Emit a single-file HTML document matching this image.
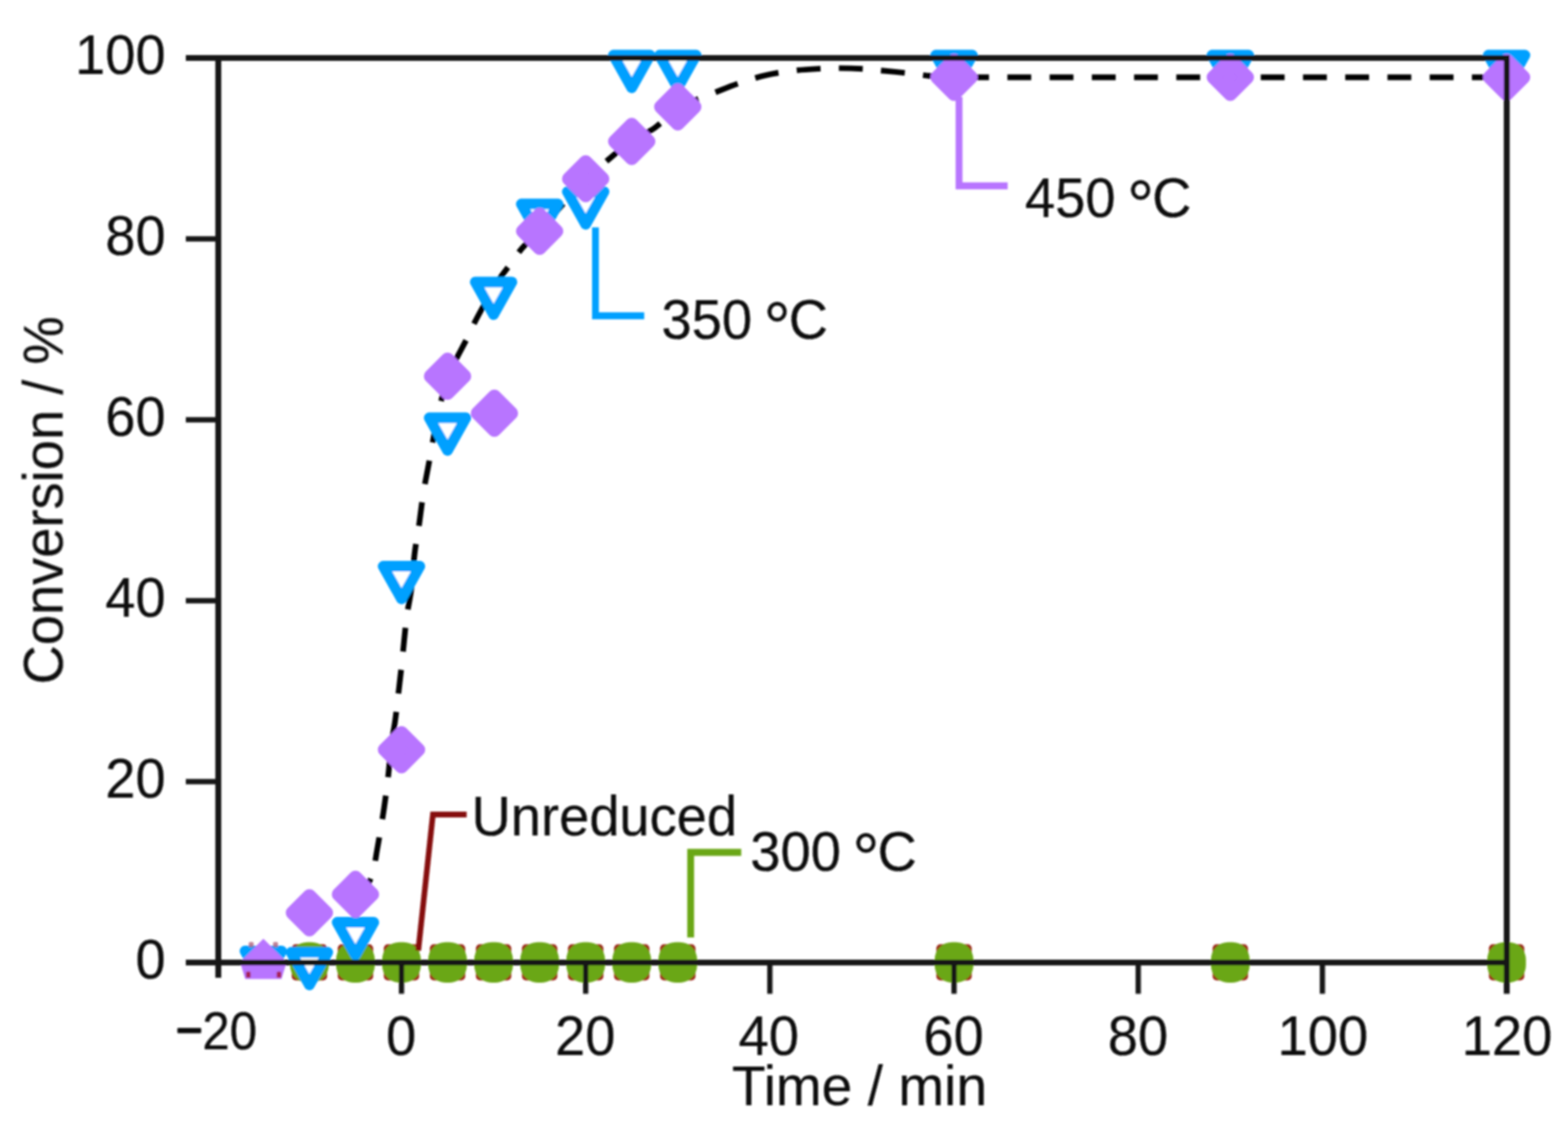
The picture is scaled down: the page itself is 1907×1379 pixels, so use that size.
<!DOCTYPE html>
<html lang="en"><head><meta charset="utf-8"><title>Conversion vs time</title>
<style>html,body{margin:0;padding:0;background:#fff;overflow:hidden}svg{display:block}text{font-family:"Liberation Sans",sans-serif;fill:#101010;stroke:#101010;stroke-width:0.25;stroke-linejoin:round}</style></head><body>
<svg width="1907" height="1379" viewBox="0 0 1907 1379" role="img" aria-label="Conversion versus time for catalysts reduced at different temperatures">
<defs><filter id="soft" x="0" y="0" width="1907" height="1379" filterUnits="userSpaceOnUse"><feGaussianBlur stdDeviation="1.25"/></filter><clipPath id="c15"><rect x="280" y="1140" width="90" height="42"/></clipPath></defs>
<rect width="1907" height="1379" fill="#fff"/>
<g filter="url(#soft)">
<path id="trendA" d="M433.00,1087.50 C435.17,1085.92 442.50,1082.92 446.00,1078.00 C449.50,1073.08 451.88,1065.50 454.00,1058.00 C456.12,1050.50 457.20,1041.33 458.70,1033.00 C460.20,1024.67 461.58,1016.50 463.00,1008.00 C464.42,999.50 465.70,992.50 467.20,982.00 C468.70,971.50 470.53,957.83 472.00,945.00 C473.47,932.17 474.58,916.33 476.00,905.00 C477.42,893.67 479.08,887.22 480.50,877.00 C481.92,866.78 483.08,855.87 484.50,843.70 C485.92,831.53 487.35,819.28 489.00,804.00 C490.65,788.72 492.57,766.42 494.40,752.00 C496.23,737.58 498.33,730.83 500.00,717.50 C501.67,704.17 502.82,685.00 504.40,672.00 C505.98,659.00 507.73,651.67 509.50,639.50 C511.27,627.33 512.83,612.47 515.00,599.00 C517.17,585.53 519.67,573.87 522.50,558.70 C525.33,543.53 528.33,524.87 532.00,508.00 C535.67,491.13 540.67,469.47 544.50,457.50 C548.33,445.53 551.17,443.70 555.00,436.20 C558.83,428.70 563.72,420.00 567.50,412.50 C571.28,405.00 574.20,398.08 577.70,391.20 C581.20,384.32 584.87,377.73 588.50,371.20 C592.13,364.67 595.87,358.03 599.50,352.00 C603.13,345.97 606.67,340.25 610.30,335.00 C613.93,329.75 617.52,325.63 621.30,320.50 C625.08,315.37 629.05,309.03 633.00,304.20 C636.95,299.37 641.13,295.33 645.00,291.50 C648.87,287.67 649.70,288.28 656.20,281.20 C662.70,274.12 674.62,259.62 684.00,249.00 C693.38,238.38 703.17,226.67 712.50,217.50 C721.83,208.33 730.92,201.58 740.00,194.00 C749.08,186.42 757.50,178.50 767.00,172.00 C776.50,165.50 787.47,162.00 797.00,155.00 C806.53,148.00 819.67,134.17 824.20,130.00" fill="none" stroke="#000" stroke-width="6.9" stroke-dasharray="29.0 22.36" stroke-dashoffset="2.0"/>
<path id="trendB" d="M1832.5,94 L1190,94 L1190,94 C1185.00,94.00 1170.00,94.30 1160.00,94.00 C1150.00,93.70 1139.80,93.08 1130.00,92.20 C1120.20,91.32 1111.20,89.80 1101.20,88.70 C1091.20,87.60 1078.53,86.42 1070.00,85.60 C1061.47,84.78 1058.33,84.25 1050.00,83.80 C1041.67,83.35 1028.55,82.97 1020.00,82.90 C1011.45,82.83 1007.37,82.95 998.70,83.40 C990.03,83.85 979.12,84.28 968.00,85.60 C956.88,86.92 943.75,88.63 932.00,91.30 C920.25,93.97 908.05,98.02 897.50,101.60 C886.95,105.18 877.28,109.48 868.70,112.80 C860.12,116.12 853.42,118.63 846.00,121.50 C838.58,124.37 827.83,128.58 824.20,130.00" fill="none" stroke="#000" stroke-width="6.9" stroke-dasharray="29.0 22.36" stroke-dashoffset="38.0"/>
<rect x="354.80" y="1148.30" width="43.0" height="44.0" rx="5.0" fill="#9a2418"/>
<rect x="410.80" y="1148.30" width="43.0" height="44.0" rx="5.0" fill="#9a2418"/>
<rect x="466.80" y="1148.30" width="43.0" height="44.0" rx="5.0" fill="#9a2418"/>
<rect x="522.80" y="1148.30" width="43.0" height="44.0" rx="5.0" fill="#9a2418"/>
<rect x="578.80" y="1148.30" width="43.0" height="44.0" rx="5.0" fill="#9a2418"/>
<rect x="634.80" y="1148.30" width="43.0" height="44.0" rx="5.0" fill="#9a2418"/>
<rect x="690.80" y="1148.30" width="43.0" height="44.0" rx="5.0" fill="#9a2418"/>
<rect x="746.80" y="1148.30" width="43.0" height="44.0" rx="5.0" fill="#9a2418"/>
<rect x="802.80" y="1148.30" width="43.0" height="44.0" rx="5.0" fill="#9a2418"/>
<rect x="1138.80" y="1148.30" width="43.0" height="44.0" rx="5.0" fill="#9a2418"/>
<rect x="1474.80" y="1148.30" width="43.0" height="44.0" rx="5.0" fill="#9a2418"/>
<rect x="1810.80" y="1148.30" width="43.0" height="44.0" rx="5.0" fill="#9a2418"/>
<rect x="352.80" y="1145.70" width="47.0" height="49.2" rx="21.0" fill="#6aa714"/>
<rect x="408.80" y="1145.70" width="47.0" height="49.2" rx="21.0" fill="#6aa714"/>
<rect x="464.80" y="1145.70" width="47.0" height="49.2" rx="21.0" fill="#6aa714"/>
<rect x="520.80" y="1145.70" width="47.0" height="49.2" rx="21.0" fill="#6aa714"/>
<rect x="576.80" y="1145.70" width="47.0" height="49.2" rx="21.0" fill="#6aa714"/>
<rect x="632.80" y="1145.70" width="47.0" height="49.2" rx="21.0" fill="#6aa714"/>
<rect x="688.80" y="1145.70" width="47.0" height="49.2" rx="21.0" fill="#6aa714"/>
<rect x="744.80" y="1145.70" width="47.0" height="49.2" rx="21.0" fill="#6aa714"/>
<rect x="800.80" y="1145.70" width="47.0" height="49.2" rx="21.0" fill="#6aa714"/>
<rect x="1136.80" y="1145.70" width="47.0" height="49.2" rx="21.0" fill="#6aa714"/>
<rect x="1472.80" y="1145.70" width="47.0" height="49.2" rx="21.0" fill="#6aa714"/>
<rect x="1808.80" y="1145.70" width="47.0" height="49.2" rx="21.0" fill="#6aa714"/>
<polygon points="298.00,1156.50 342.60,1156.50 320.30,1196.10" fill="#00a0ff" stroke="#00a0ff" stroke-width="13.0" stroke-linejoin="round" clip-path="url(#c15)"/>
<polygon points="354.00,1158.10 398.60,1158.10 376.30,1197.70" fill="#fff" stroke="#00a0ff" stroke-width="13.0" stroke-linejoin="round"/>
<polygon points="410.00,1121.60 454.60,1121.60 432.30,1161.20" fill="#fff" stroke="#00a0ff" stroke-width="13.0" stroke-linejoin="round"/>
<polygon points="466.00,688.60 510.60,688.60 488.30,728.20" fill="#fff" stroke="#00a0ff" stroke-width="13.0" stroke-linejoin="round"/>
<polygon points="522.00,508.10 566.60,508.10 544.30,547.70" fill="#fff" stroke="#00a0ff" stroke-width="13.0" stroke-linejoin="round"/>
<polygon points="578.00,342.90 622.60,342.90 600.30,382.50" fill="#fff" stroke="#00a0ff" stroke-width="13.0" stroke-linejoin="round"/>
<polygon points="634.00,248.10 678.60,248.10 656.30,287.70" fill="#fff" stroke="#00a0ff" stroke-width="13.0" stroke-linejoin="round"/>
<polygon points="690.00,233.10 734.60,233.10 712.30,272.70" fill="#fff" stroke="#00a0ff" stroke-width="13.0" stroke-linejoin="round"/>
<polygon points="746.00,67.10 790.60,67.10 768.30,106.70" fill="#fff" stroke="#00a0ff" stroke-width="13.0" stroke-linejoin="round"/>
<polygon points="802.00,67.10 846.60,67.10 824.30,106.70" fill="#fff" stroke="#00a0ff" stroke-width="13.0" stroke-linejoin="round"/>
<polygon points="1138.00,67.10 1182.60,67.10 1160.30,106.70" fill="#fff" stroke="#00a0ff" stroke-width="13.0" stroke-linejoin="round"/>
<polygon points="1474.00,67.10 1518.60,67.10 1496.30,106.70" fill="#fff" stroke="#00a0ff" stroke-width="13.0" stroke-linejoin="round"/>
<polygon points="1810.00,67.10 1854.60,67.10 1832.30,106.70" fill="#fff" stroke="#00a0ff" stroke-width="13.0" stroke-linejoin="round"/>
<path d="M320.3,1141.5 L348.3,1169.5 L346.8,1176 L342.3,1190.5 L298.3,1190.5 L293.8,1176 L292.3,1169.5 Z" fill="#b874ff"/>
<rect x="299.2" y="1181.5" width="5.6" height="7.6" rx="1.5" fill="#a62258"/>
<rect x="336.5" y="1181.5" width="5.6" height="7.6" rx="1.5" fill="#a62258"/>
<rect x="302.5" y="1145.4" width="6" height="6.5" rx="1.5" fill="#b0607c" opacity="0.8"/>
<rect x="332.1" y="1145.4" width="6" height="6.5" rx="1.5" fill="#b0607c" opacity="0.8"/>
<polygon points="376.30,1089.21 397.09,1110.00 376.30,1130.79 355.51,1110.00" fill="#b874ff" stroke="#b874ff" stroke-width="16.0" stroke-linejoin="round"/>
<polygon points="432.30,1066.71 453.09,1087.50 432.30,1108.29 411.51,1087.50" fill="#b874ff" stroke="#b874ff" stroke-width="16.0" stroke-linejoin="round"/>
<polygon points="488.30,890.91 509.09,911.70 488.30,932.49 467.51,911.70" fill="#b874ff" stroke="#b874ff" stroke-width="16.0" stroke-linejoin="round"/>
<polygon points="544.30,436.71 565.09,457.50 544.30,478.29 523.51,457.50" fill="#b874ff" stroke="#b874ff" stroke-width="16.0" stroke-linejoin="round"/>
<polygon points="601.30,481.71 622.09,502.50 601.30,523.29 580.51,502.50" fill="#b874ff" stroke="#b874ff" stroke-width="16.0" stroke-linejoin="round"/>
<polygon points="656.30,260.41 677.09,281.20 656.30,301.99 635.51,281.20" fill="#b874ff" stroke="#b874ff" stroke-width="16.0" stroke-linejoin="round"/>
<polygon points="712.30,196.71 733.09,217.50 712.30,238.29 691.51,217.50" fill="#b874ff" stroke="#b874ff" stroke-width="16.0" stroke-linejoin="round"/>
<polygon points="768.30,151.21 789.09,172.00 768.30,192.79 747.51,172.00" fill="#b874ff" stroke="#b874ff" stroke-width="16.0" stroke-linejoin="round"/>
<polygon points="824.30,109.21 845.09,130.00 824.30,150.79 803.51,130.00" fill="#b874ff" stroke="#b874ff" stroke-width="16.0" stroke-linejoin="round"/>
<polygon points="1160.30,73.21 1181.09,94.00 1160.30,114.79 1139.51,94.00" fill="#b874ff" stroke="#b874ff" stroke-width="16.0" stroke-linejoin="round"/>
<polygon points="1496.30,73.21 1517.09,94.00 1496.30,114.79 1475.51,94.00" fill="#b874ff" stroke="#b874ff" stroke-width="16.0" stroke-linejoin="round"/>
<polygon points="1832.30,73.21 1853.09,94.00 1832.30,114.79 1811.51,94.00" fill="#b874ff" stroke="#b874ff" stroke-width="16.0" stroke-linejoin="round"/>
<path d="M1166.4,118 V226 H1225.5" fill="none" stroke="#b874ff" stroke-width="8.3"/>
<path d="M724.2,276.5 V384 H783.5" fill="none" stroke="#00a0ff" stroke-width="8.3"/>
<path d="M508.7,1156 L526.5,990.5 H567.5" fill="none" stroke="#850c0c" stroke-width="6.8"/>
<path d="M840,1140 V1036.5 H901.5" fill="none" stroke="#6aa714" stroke-width="8.3"/>
<g stroke="#181818" fill="none">
<path d="M226,70.5 H1836" stroke-width="7.2"/>
<path d="M226,1170.5 H1836" stroke-width="7.2"/>
<path d="M265.5,70.5 V1189" stroke-width="7.2"/>
<path d="M1832.5,70.5 V1208.5" stroke-width="7.2"/>
<path d="M226,290.5 H265.5" stroke-width="6.4"/>
<path d="M226,510.5 H265.5" stroke-width="6.4"/>
<path d="M226,730.5 H265.5" stroke-width="6.4"/>
<path d="M226,950.5 H265.5" stroke-width="6.4"/>
<path d="M488.3,1170.5 V1208.5" stroke-width="6.4"/>
<path d="M712.3,1170.5 V1208.5" stroke-width="6.4"/>
<path d="M936.3,1170.5 V1208.5" stroke-width="6.4"/>
<path d="M1160.3,1170.5 V1208.5" stroke-width="6.4"/>
<path d="M1384.3,1170.5 V1208.5" stroke-width="6.4"/>
<path d="M1608.3,1170.5 V1208.5" stroke-width="6.4"/>
</g>
<text transform="translate(201.5,90.1) scale(0.967,1)" font-size="68.3" text-anchor="end">100</text>
<text transform="translate(201.5,310.1) scale(0.967,1)" font-size="68.3" text-anchor="end">80</text>
<text transform="translate(201.5,530.1) scale(0.967,1)" font-size="68.3" text-anchor="end">60</text>
<text transform="translate(201.5,750.1) scale(0.967,1)" font-size="68.3" text-anchor="end">40</text>
<text transform="translate(201.5,970.1) scale(0.967,1)" font-size="68.3" text-anchor="end">20</text>
<text transform="translate(201.5,1190.1) scale(0.967,1)" font-size="68.3" text-anchor="end">0</text>
<text transform="translate(214.0,1275.5) scale(0.94,1)" font-size="64" text-anchor="start" stroke-width="0.1"><tspan dy="-2.2" font-size="59" stroke-width="2.2">−</tspan><tspan dy="2.2" dx="-0.5">20</tspan></text>
<text transform="translate(487.8,1283.0) scale(0.967,1)" font-size="68.3" text-anchor="middle">0</text>
<text transform="translate(711.8,1283.0) scale(0.967,1)" font-size="68.3" text-anchor="middle">20</text>
<text transform="translate(935.1,1283.0) scale(0.967,1)" font-size="68.3" text-anchor="middle">40</text>
<text transform="translate(1159.8,1283.0) scale(0.967,1)" font-size="68.3" text-anchor="middle">60</text>
<text transform="translate(1383.9,1283.0) scale(0.967,1)" font-size="68.3" text-anchor="middle">80</text>
<text transform="translate(1608.8,1283.0) scale(0.967,1)" font-size="68.3" text-anchor="middle">100</text>
<text transform="translate(1832.9,1283.0) scale(0.967,1)" font-size="68.3" text-anchor="middle">120</text>
<text transform="translate(1045.3,1343.6) scale(0.967,1)" font-size="69.3" text-anchor="middle">Time / min</text>
<text transform="translate(76.2,608.5) rotate(-90) scale(0.967,1)" font-size="68.3" text-anchor="middle">Conversion / %</text>
<text transform="translate(1246.5,264.2) scale(0.967,1)" font-size="68.3" text-anchor="start">450 <tspan font-size="85" dy="14.4" dx="-4.5">°</tspan><tspan dy="-14.4" dx="-2.5">C</tspan></text>
<text transform="translate(804.5,412.2) scale(0.967,1)" font-size="68.3" text-anchor="start">350 <tspan font-size="85" dy="14.4" dx="-4.5">°</tspan><tspan dy="-14.4" dx="-2.5">C</tspan></text>
<text transform="translate(912.5,1058.8) scale(0.967,1)" font-size="68.3" text-anchor="start">300 <tspan font-size="85" dy="14.4" dx="-4.5">°</tspan><tspan dy="-14.4" dx="-2.5">C</tspan></text>
<text transform="translate(573.5,1016.2) scale(0.967,1)" font-size="68.3" text-anchor="start">Unreduced</text>
</g></svg></body></html>
